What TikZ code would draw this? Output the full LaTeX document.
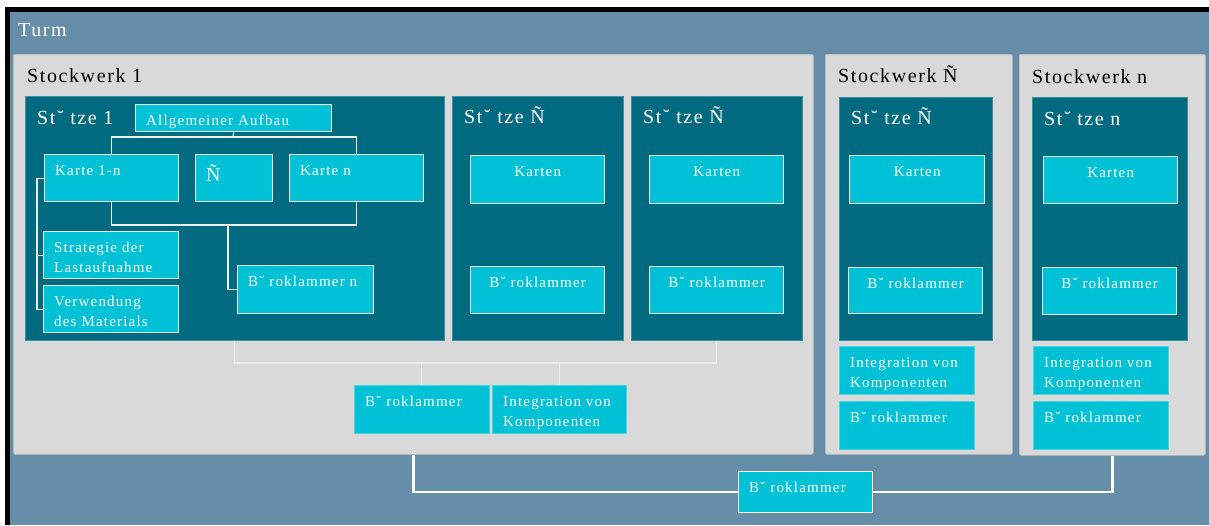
\documentclass[tikz,border=0pt]{standalone}
\usepackage{fontspec}
\setmainfont{Liberation Serif}[LetterSpace=8]
\usetikzlibrary{calc}
\definecolor{turmblue}{RGB}{103,142,168}
\definecolor{panelgray}{RGB}{217,217,217}
\definecolor{stuteal}{RGB}{0,106,128}
\definecolor{cyanbox}{RGB}{0,193,213}
\newcommand\bigfont{\fontsize{20}{24}\selectfont}
\newcommand\smfont{\fontsize{15}{20}\selectfont}
\newcommand\bx[5]{\node[#1,minimum width=#4pt,minimum height=#5pt] (#2) at (#3) {};}
\newcommand\tlft[2]{\node[txt,anchor=north west] (#1t) at ([xshift=11pt,yshift=-11pt]#1.north west) {#2};}
\newcommand\tctr[2]{\node[txt,anchor=north] (#1t) at ([yshift=-11pt]#1.north) {#2};}
\tikzset{
  panel/.style={fill=panelgray, draw=panelgray!88!black, line width=0.6pt, rounded corners=1.5pt, inner sep=0pt, anchor=north west},
  stbox/.style={fill=stuteal, draw=stuteal!75!white, line width=0.6pt, inner sep=0pt, anchor=north west},
  cinner/.style={fill=cyanbox, draw=white!92!black, line width=1.3pt, inner sep=0pt, anchor=north west},
  couter/.style={fill=cyanbox, draw=cyanbox!70!white, line width=0.7pt, inner sep=0pt, anchor=north west},
  cbottom/.style={fill=cyanbox, draw=white, line width=1.3pt, inner sep=0pt, anchor=north west},
  txt/.style={inner sep=0pt, align=left, text=white, font=\smfont},
  lbl/.style={inner sep=0pt, font=\bigfont},
  conn/.style={draw=white!93!black, line width=1.2pt},
  connbig/.style={draw=white, line width=2.6pt},
}
\begin{document}
\begin{tikzpicture}[x=1pt,y=-1pt]
\useasboundingbox (0,0) rectangle (1209,525);
\fill[white] (0,0) rectangle (1209,525);
\fill[black] (5,7) rectangle (1209,525);
\node[fill=turmblue, inner sep=0pt, anchor=north west, minimum width=1199pt, minimum height=513pt] (turm) at (10,12) {};
\node[lbl, text=white, anchor=base west] (turmt) at (18,36) {Turm};

% Stockwerke
\bx{panel}{sw1}{13,54}{800}{400}
\bx{panel}{sw2}{825,54}{187}{400}
\bx{panel}{sw3}{1019,54}{186}{401}
\node[lbl, text=black, anchor=base west] (sw1t) at (27,82) {Stockwerk 1};
\node[lbl, text=black, anchor=base west] (sw2t) at (838,82) {Stockwerk Ñ};
\node[lbl, text=black, anchor=base west] (sw3t) at (1032,83) {Stockwerk n};

% Stuetzen
\bx{stbox}{st1}{25,96}{419}{244}
\bx{stbox}{st2}{452,96}{171}{244}
\bx{stbox}{st3}{631,96}{171}{244}
\bx{stbox}{st4}{839,97}{153}{243}
\bx{stbox}{st5}{1032,97}{155}{243}
\node[lbl, text=white, anchor=base west] (st1t) at (37,124) {St˘ tze 1};
\node[lbl, text=white, anchor=base west] (st2t) at (464,123) {St˘ tze Ñ};
\node[lbl, text=white, anchor=base west] (st3t) at (643,123) {St˘ tze Ñ};
\node[lbl, text=white, anchor=base west] (st4t) at (851,124) {St˘ tze Ñ};
\node[lbl, text=white, anchor=base west] (st5t) at (1044,125) {St˘ tze n};

% connectors inside Stuetze 1
\coordinate (j1) at (233,137);
\coordinate (j2) at (228,225);
\coordinate (j4) at (400,363);

% boxes in Stuetze 1
\bx{cinner}{aufbau}{135,104}{196}{27}
\bx{cinner}{k1}{44,154}{134}{47}
\bx{cinner}{kdots}{195,154}{77}{47}
\bx{cinner}{kn}{289,154}{134}{47}
\bx{cinner}{strat}{43,231}{135}{47}
\bx{cinner}{verw}{43,285}{135}{47}
\bx{cinner}{bkn}{237,265}{136}{48}
\tlft{aufbau}{Allgemeiner Aufbau}
\tlft{k1}{Karte 1-n}
\node[lbl, text=white, anchor=base west] (kdotst) at (206,181) {Ñ};
\tlft{kn}{Karte n}
\tlft{strat}{Strategie der\\Lastaufnahme}
\tlft{verw}{Verwendung\\des Materials}
\tlft{bkn}{B˘ roklammer n}

\draw[conn] (aufbau.south) -- (j1);
\draw[conn] (k1.north) |- (j1) -| (kn.north);
\draw[conn] (k1.south) |- (j2) -| (kn.south);
\draw[conn] (j2) |- (bkn.west);
\draw[conn] (k1.west) -| ([xshift=-6pt]verw.west) -- (verw.west);
\draw[conn] ([xshift=-6pt]strat.west) -- (strat.west);

% other Stuetzen
\bx{cinner}{ka2}{470,155}{134}{48}
\bx{cinner}{bk2}{470,266}{134}{47}
\bx{cinner}{ka3}{649,155}{134}{48}
\bx{cinner}{bk3}{649,266}{134}{47}
\bx{cinner}{ka4}{849,155}{135}{48}
\bx{cinner}{bk4}{848,267}{134}{46}
\bx{cinner}{ka5}{1043,156}{134}{47}
\bx{cinner}{bk5}{1042,267}{134}{47}
\tctr{ka2}{Karten}
\tctr{bk2}{B˘ roklammer}
\tctr{ka3}{Karten}
\tctr{bk3}{B˘ roklammer}
\tctr{ka4}{Karten}
\tctr{bk4}{B˘ roklammer}
\tctr{ka5}{Karten}
\tctr{bk5}{B˘ roklammer}

% boxes on the gray panels
\bx{couter}{bk8}{354,385}{135}{48}
\bx{couter}{int1}{492,385}{134}{48}
\bx{couter}{int2}{839,346}{135}{48}
\bx{couter}{bk6}{839,401}{135}{48}
\bx{couter}{int3}{1033,346}{135}{48}
\bx{couter}{bk7}{1033,401}{135}{48}
\tlft{bk8}{B˘ roklammer}
\tlft{int1}{Integration von\\Komponenten}
\tlft{int2}{Integration von\\Komponenten}
\tlft{bk6}{B˘ roklammer}
\tlft{int3}{Integration von\\Komponenten}
\tlft{bk7}{B˘ roklammer}

\draw[conn] (st1.south) |- (j4) -| (st3.south);
\draw[conn] (bk8.north) -- (bk8.north |- j4);
\draw[conn] (int1.north) -- (int1.north |- j4);

% bottom
\bx{cbottom}{bk9}{738,471}{134}{41}
\tlft{bk9}{B˘ roklammer}
\draw[connbig] (sw1.south) |- (bk9.west);
\draw[connbig] (bk9.east) -| (sw3.south);
\end{tikzpicture}
\end{document}
